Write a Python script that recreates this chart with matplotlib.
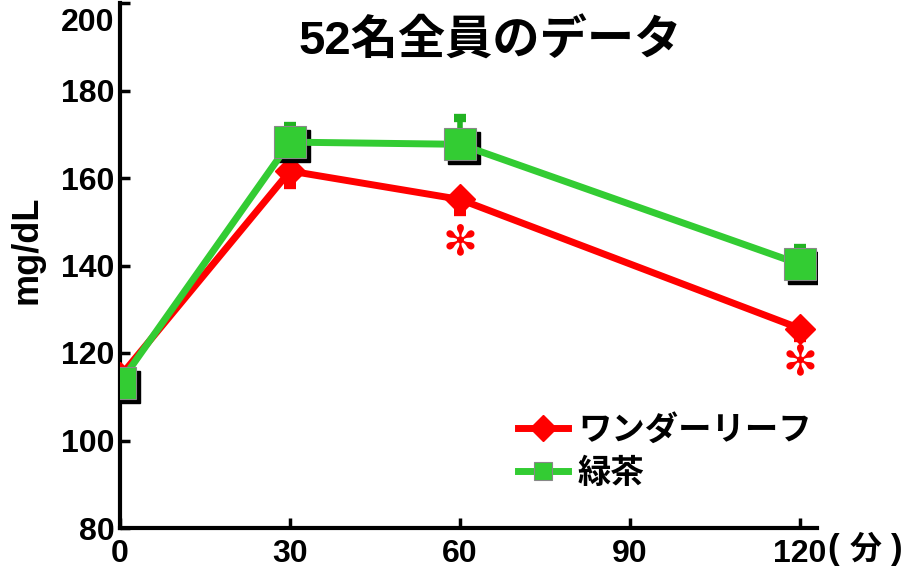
import matplotlib
matplotlib.use("Agg")
import matplotlib.pyplot as plt
import matplotlib.transforms as mtransforms

# ---- data ----
x_vals = [0, 30, 60, 120]
red_vals = [114.6, 161.6, 155.1, 125.6]
red_err_low = [0.0, 3.3, 2.9, 2.1]
green_vals = [113.2, 168.2, 167.7, 140.3]
green_err_up = [0.0, 3.8, 6.0, 3.6]
x_ticks = [0, 30, 60, 90, 120]
y_ticks = [80, 100, 120, 140, 160, 180, 200]
series_names = ["ワンダーリーフ", "緑茶"]
title_text = "52名全員のデータ"
ylabel_text = "mg/dL"
unit_parts = ["(", "分", ")"]
star_x = [60, 120]
star_y = [145.3, 118.0]

RED = "#ff0000"
GREEN = "#33cc33"
GREEN_DARK = "#22b322"
FAM = ["Liberation Sans", "Noto Sans CJK JP", "DejaVu Sans"]

fig = plt.figure(figsize=(9.13, 5.77), dpi=100)
ax = fig.add_axes([120/913, 1-528/577, (817-120)/913, (528-3)/577])

shadow = mtransforms.offset_copy(ax.transData, fig=fig, x=4, y=-4, units="dots")

# red series
ax.errorbar(x_vals, red_vals, yerr=[red_err_low, [0]*len(red_vals)], fmt="none",
            ecolor=RED, elinewidth=4, capsize=4.5, capthick=6, zorder=2)
ax.plot(x_vals, red_vals, color=RED, lw=5, marker="D", markersize=15,
        markeredgecolor=RED, zorder=3, label=series_names[0])

# green series
ax.errorbar(x_vals, green_vals, yerr=[[0]*len(green_vals), green_err_up], fmt="none",
            ecolor=GREEN_DARK, elinewidth=4, capsize=4, capthick=6, zorder=4)
ax.plot(x_vals, green_vals, color="black", lw=0, marker="s", markersize=23,
        transform=shadow, zorder=4.5)
ax.plot(x_vals, green_vals, color=GREEN, lw=5, marker="s", markersize=23,
        markeredgecolor="#888888", markeredgewidth=0.8, zorder=5, label=series_names[1])

for sx, sy in zip(star_x, star_y):
    ax.text(sx, sy, "✻", color=RED, fontsize=30, ha="center", va="center",
            family="DejaVu Sans", zorder=6)

ax.set_xlim(0, 123)
ax.set_ylim(80, 200)
ax.set_xticks(x_ticks)
ax.set_yticks(y_ticks)
ax.set_xticklabels([str(v) for v in x_ticks])
ax.set_yticklabels([str(v) if v != 200 else "" for v in y_ticks])
for s in ["top", "right"]:
    ax.spines[s].set_visible(False)
for s in ["left", "bottom"]:
    ax.spines[s].set_linewidth(3)
ax.tick_params(axis="both", direction="in", length=7, width=2.5, labelsize=23, pad=4)
ax.tick_params(axis="x", pad=8)
for lab in ax.get_xticklabels() + ax.get_yticklabels():
    lab.set_fontweight("bold")
    lab.set_family(FAM)

# top tick label sits a bit lower than its tick in the reference
fig.text(114/913, 1-23/577, str(y_ticks[-1]), fontsize=23, fontweight="bold",
         family=FAM, ha="right", va="center")

fig.text(490/913, 1-42/577, title_text, fontsize=34, fontweight="bold",
         family=FAM, ha="center", va="center")
fig.text(27/913, 1-250/577, ylabel_text, fontsize=26, fontweight="bold",
         family=FAM, ha="center", va="center", rotation=90)

# unit after the last x tick label
fig.text(827/913, 1-549/577, unit_parts[0], fontsize=25, fontweight="bold",
         family=FAM, ha="left", va="center")
fig.text(866/913, 1-550/577, unit_parts[1], fontsize=23, fontweight="bold",
         family=FAM, ha="center", va="center")
fig.text(903/913, 1-549/577, unit_parts[2], fontsize=25, fontweight="bold",
         family=FAM, ha="right", va="center")

leg = ax.legend(loc="upper left", bbox_to_anchor=(488/913, 1-385/577),
                bbox_transform=fig.transFigure, frameon=False, handlelength=1.5,
                handletextpad=0.3, labelspacing=0.35,
                prop={"family": FAM, "size": 24, "weight": "bold"})
for h in leg.legend_handles:
    h.set_markersize(13)

fig.savefig("out.png", dpi=100)
